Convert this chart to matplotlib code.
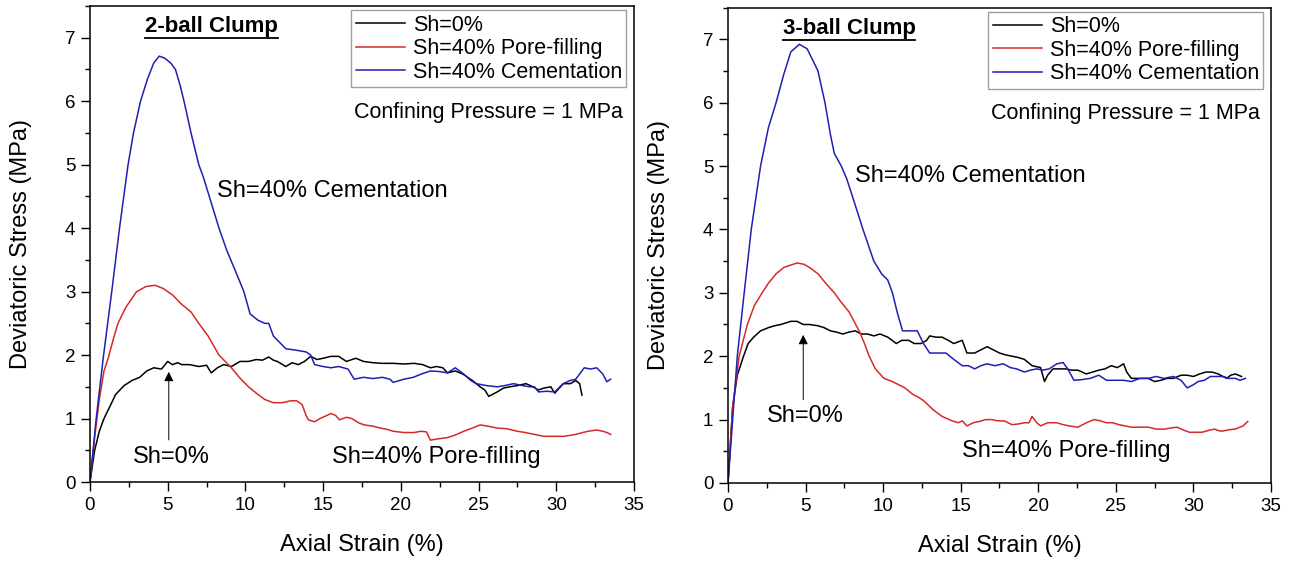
import matplotlib
matplotlib.use("Agg")
import matplotlib.pyplot as plt
from matplotlib.ticker import MultipleLocator
from matplotlib.lines import Line2D

plt.rcParams['font.family'] = ['Liberation Sans', 'DejaVu Sans']

# ---- data (axial strain %, deviatoric stress MPa) ----
# 2-ball clump
ball2_x_sh0 = [0, 0.3, 0.6, 0.9, 1.3, 1.65, 2.2, 2.7, 3.2, 3.65, 4.1, 4.6, 5.0, 5.3, 5.65, 5.9,
               6.4, 7.0, 7.5, 7.8, 8.2, 8.6, 9.1, 9.65, 10.2, 10.7, 11.1, 11.5, 11.8, 12.05,
               12.6, 13.0, 13.4, 13.8, 14.2, 14.6, 15.0, 15.5, 16.0, 16.5, 17.1, 17.6, 18.2,
               18.8, 19.5, 20.2, 20.85, 21.4, 21.9, 22.3, 22.7, 23.0, 23.5, 24.0, 24.6, 25.1,
               25.4, 25.65, 26.2, 26.6, 27.0, 27.5, 28.05, 28.5, 28.85, 29.2, 29.65, 29.9,
               30.45, 30.9, 31.25, 31.5, 31.65]
ball2_y_sh0 = [0, 0.5, 0.8, 1.0, 1.2, 1.38, 1.52, 1.6, 1.65, 1.75, 1.8, 1.78, 1.9, 1.85, 1.88, 1.85,
               1.85, 1.82, 1.84, 1.72, 1.8, 1.85, 1.82, 1.9, 1.9, 1.93, 1.92, 1.97, 1.92, 1.9,
               1.82, 1.88, 1.85, 1.9, 1.98, 1.93, 1.95, 1.98, 1.98, 1.9, 1.95, 1.9, 1.88,
               1.87, 1.87, 1.86, 1.87, 1.85, 1.8, 1.82, 1.8, 1.72, 1.75, 1.7, 1.6, 1.5,
               1.45, 1.35, 1.42, 1.48, 1.5, 1.52, 1.55, 1.5, 1.45, 1.48, 1.5, 1.4,
               1.55, 1.55, 1.6, 1.55, 1.37]
ball2_x_pore = [0, 0.3, 0.6, 0.9, 1.17, 1.5, 1.8, 2.3, 3.0, 3.6, 4.2, 4.7, 5.3, 5.9, 6.5, 7.0,
                7.6, 8.3, 8.7, 9.1, 9.6, 10.2, 10.7, 11.25, 11.8, 12.4, 12.9, 13.3, 13.65, 13.9,
                14.05, 14.45, 14.8, 15.25, 15.5, 15.8, 16.05, 16.5, 16.85, 17.3, 17.65, 18.2,
                18.7, 19.1, 19.5, 20.2, 20.85, 21.3, 21.65, 21.9, 22.4, 23.0, 23.5, 24.05, 24.6,
                25.1, 25.6, 26.2, 26.8, 27.5, 28.0, 28.6, 29.2, 29.9, 30.5, 31.25, 31.7, 32.05,
                32.6, 33.0, 33.25, 33.5]
ball2_y_pore = [0, 0.7, 1.3, 1.75, 1.95, 2.25, 2.5, 2.75, 3.0, 3.08, 3.1, 3.05, 2.95, 2.8, 2.68, 2.5,
                2.3, 2.0, 1.9, 1.8, 1.65, 1.5, 1.4, 1.3, 1.25, 1.25, 1.28, 1.28, 1.22, 1.05,
                0.98, 0.95, 1.0, 1.05, 1.08, 1.05, 0.98, 1.02, 1.0, 0.93, 0.9, 0.88,
                0.85, 0.83, 0.8, 0.78, 0.78, 0.8, 0.79, 0.66, 0.68, 0.7, 0.74, 0.8, 0.85,
                0.9, 0.88, 0.85, 0.84, 0.8, 0.78, 0.75, 0.72, 0.72, 0.72, 0.75, 0.78, 0.8,
                0.82, 0.8, 0.78, 0.75]
ball2_x_cem = [0, 0.4, 0.85, 1.4, 1.9, 2.45, 2.8, 3.25, 3.7, 4.1, 4.45, 4.8, 5.2, 5.5, 5.8, 6.05,
               6.5, 7.0, 7.3, 7.8, 8.3, 8.8, 9.4, 9.9, 10.3, 10.8, 11.25, 11.5, 11.8, 12.2, 12.6,
               13.2, 13.9, 14.2, 14.45, 15.0, 15.5, 16.0, 16.6, 17.0, 17.6, 18.2, 18.8, 19.3,
               19.5, 20.2, 20.8, 21.3, 21.9, 22.5, 23.0, 23.5, 24.05, 24.5, 24.85, 25.5, 26.2,
               26.7, 27.25, 27.8, 28.3, 28.6, 28.85, 29.4, 29.9, 30.45, 30.9, 31.25, 31.8,
               32.2, 32.6, 33.0, 33.25, 33.5]
ball2_y_cem = [0, 1.0, 1.95, 3.0, 4.0, 5.0, 5.5, 6.0, 6.35, 6.6, 6.71, 6.68, 6.6, 6.5, 6.25, 6.0,
               5.5, 5.0, 4.8, 4.4, 4.0, 3.65, 3.3, 3.0, 2.65, 2.55, 2.5, 2.5, 2.3, 2.2, 2.1,
               2.08, 2.05, 2.0, 1.85, 1.82, 1.8, 1.82, 1.78, 1.62, 1.65, 1.63, 1.65, 1.62,
               1.57, 1.62, 1.65, 1.7, 1.75, 1.74, 1.72, 1.8, 1.7, 1.6, 1.55, 1.52, 1.5,
               1.52, 1.55, 1.52, 1.5, 1.5, 1.42, 1.43, 1.42, 1.55, 1.6, 1.62, 1.8,
               1.78, 1.8, 1.7, 1.58, 1.62]

# 3-ball clump
ball3_x_sh0 = [0, 0.3, 0.6, 1.0, 1.3, 1.65, 2.1, 2.6, 3.0, 3.4, 4.05, 4.45, 4.85, 5.25, 5.8, 6.2,
               6.6, 7.0, 7.4, 7.8, 8.2, 8.6, 9.0, 9.4, 9.8, 10.3, 10.85, 11.2, 11.65, 12.0,
               12.45, 12.8, 13.0, 13.4, 13.8, 14.2, 14.55, 15.1, 15.4, 15.9, 16.3, 16.7, 17.1,
               17.5, 17.9, 18.3, 18.7, 19.1, 19.6, 20.15, 20.4, 20.6, 20.95, 21.35, 21.75,
               22.15, 22.55, 23.1, 23.5, 23.9, 24.3, 24.7, 25.1, 25.5, 25.7, 26.0, 26.5, 27.1,
               27.5, 27.9, 28.3, 28.7, 29.2, 29.6, 30.0, 30.4, 30.8, 31.2, 31.6, 31.9, 32.15,
               32.4, 32.7, 33.1]
ball3_y_sh0 = [0, 1.2, 1.7, 2.0, 2.2, 2.3, 2.4, 2.45, 2.48, 2.5, 2.55, 2.55, 2.5, 2.5, 2.48, 2.45,
               2.4, 2.38, 2.35, 2.38, 2.4, 2.35, 2.35, 2.32, 2.35, 2.3, 2.2, 2.25, 2.25, 2.2,
               2.2, 2.25, 2.32, 2.3, 2.3, 2.25, 2.2, 2.25, 2.05, 2.05, 2.1, 2.15, 2.1,
               2.05, 2.02, 2.0, 1.98, 1.95, 1.85, 1.82, 1.6, 1.7, 1.8, 1.8, 1.8,
               1.78, 1.78, 1.72, 1.75, 1.78, 1.8, 1.85, 1.82, 1.88, 1.75, 1.65, 1.65, 1.65,
               1.6, 1.62, 1.65, 1.65, 1.7, 1.7, 1.68, 1.72, 1.75, 1.75, 1.72, 1.68, 1.65,
               1.7, 1.72, 1.68]
ball3_x_pore = [0, 0.3, 0.72, 1.25, 1.7, 2.2, 2.6, 3.1, 3.6, 4.2, 4.45, 4.9, 5.25, 5.8, 6.3, 6.85,
                7.3, 7.8, 8.45, 8.8, 9.1, 9.5, 10.05, 10.6, 11.0, 11.4, 11.9, 12.3, 12.6, 13.25,
                13.8, 14.45, 14.85, 15.1, 15.4, 15.8, 16.2, 16.6, 17.0, 17.4, 17.8, 18.3, 18.7,
                19.1, 19.4, 19.6, 19.9, 20.15, 20.6, 21.2, 21.6, 22.0, 22.55, 23.1, 23.6, 24.0,
                24.4, 24.8, 25.2, 25.6, 26.0, 26.5, 27.1, 27.6, 28.15, 28.6, 28.95, 29.4, 29.75,
                30.2, 30.55, 31.0, 31.35, 31.7, 31.9, 32.3, 32.7, 33.0, 33.2, 33.5]
ball3_y_pore = [0, 1.2, 2.0, 2.5, 2.8, 3.0, 3.15, 3.3, 3.4, 3.45, 3.47, 3.45, 3.4, 3.3, 3.15, 3.0,
                2.85, 2.7, 2.4, 2.2, 2.0, 1.8, 1.65, 1.6, 1.55, 1.5, 1.4, 1.35, 1.3, 1.15,
                1.05, 0.98, 0.95, 0.98, 0.9, 0.95, 0.97, 1.0, 1.0, 0.98, 0.98, 0.92, 0.93,
                0.95, 0.95, 1.05, 0.95, 0.9, 0.95, 0.95, 0.92, 0.9, 0.88, 0.95, 1.0, 0.98,
                0.95, 0.95, 0.92, 0.9, 0.88, 0.88, 0.88, 0.85, 0.85, 0.87, 0.88, 0.83, 0.8,
                0.8, 0.8, 0.83, 0.85, 0.82, 0.82, 0.84, 0.85, 0.88, 0.9, 0.97]
ball3_x_cem = [0, 0.3, 0.6, 1.0, 1.5, 2.1, 2.6, 3.1, 3.6, 4.05, 4.6, 5.1, 5.5, 5.8, 6.25, 6.6,
               6.85, 7.3, 7.65, 8.05, 8.7, 9.4, 9.9, 10.3, 10.6, 10.9, 11.25, 11.7, 12.2, 12.6,
               13.0, 13.5, 14.05, 14.55, 15.1, 15.5, 15.9, 16.3, 16.7, 17.2, 17.75, 18.2, 18.6,
               19.1, 19.5, 19.9, 20.3, 20.7, 21.2, 21.6, 21.9, 22.3, 22.8, 23.35, 23.9, 24.4,
               25.0, 25.5, 26.0, 26.55, 27.1, 27.6, 28.1, 28.7, 29.2, 29.6, 30.0, 30.3, 30.7,
               31.1, 31.5, 31.9, 32.3, 32.7, 33.0, 33.35]
ball3_y_cem = [0, 1.0, 2.0, 2.9, 4.0, 5.0, 5.6, 6.0, 6.45, 6.8, 6.92, 6.85, 6.65, 6.5, 6.0, 5.5,
               5.2, 5.0, 4.8, 4.5, 4.0, 3.5, 3.3, 3.2, 3.0, 2.7, 2.4, 2.4, 2.4, 2.2,
               2.05, 2.05, 2.05, 1.95, 1.85, 1.85, 1.8, 1.85, 1.88, 1.85, 1.88, 1.82, 1.8,
               1.75, 1.78, 1.8, 1.78, 1.8, 1.88, 1.9, 1.8, 1.62, 1.63, 1.65, 1.7, 1.62,
               1.62, 1.62, 1.6, 1.65, 1.65, 1.68, 1.65, 1.68, 1.62, 1.5, 1.55, 1.6, 1.62,
               1.68, 1.68, 1.68, 1.65, 1.65, 1.62, 1.65]

series_labels = ['Sh=0%', 'Sh=40% Pore-filling', 'Sh=40% Cementation']
series_colors = ['black', '#d42a2a', '#1f1fb4']

FS = 17


def draw_panel(ax, curves, title, arrow_xy, arrow_tail, sh0_xy, pore_xy, cem_xy):
    for (xs, ys), lab, col in zip(curves, series_labels, series_colors):
        ax.plot(xs, ys, color=col, lw=1.1, label=lab)

    ax.set_xlim(0, 35)
    ax.set_ylim(0, 7.5)
    ax.xaxis.set_major_locator(MultipleLocator(5))
    ax.xaxis.set_minor_locator(MultipleLocator(2.5))
    ax.yaxis.set_major_locator(MultipleLocator(1))
    ax.yaxis.set_minor_locator(MultipleLocator(0.5))
    ax.tick_params(which='major', direction='out', length=6.5, width=1, labelsize=13.5, pad=4)
    ax.tick_params(which='minor', direction='out', length=3.3, width=1)
    for sp in ax.spines.values():
        sp.set_linewidth(1.1)

    ax.set_xlabel('Axial Strain (%)', fontsize=FS, labelpad=15)
    ax.set_ylabel('Deviatoric Stress (MPa)', fontsize=FS, labelpad=24)

    leg = ax.legend(loc='upper right', bbox_to_anchor=(0.986, 0.991), borderaxespad=0,
                    fancybox=False, edgecolor='#888888', fontsize=15.5, handlelength=2.3,
                    handletextpad=0.35, labelspacing=0.12, borderpad=0.2)
    leg.get_frame().set_linewidth(1.0)

    ax.text(34.3, 5.83, 'Confining Pressure = 1 MPa', fontsize=15.5, ha='right', va='center')
    ax.text(cem_xy[0], cem_xy[1], 'Sh=40% Cementation', fontsize=FS, ha='left', va='center')
    ax.text(pore_xy[0], pore_xy[1], 'Sh=40% Pore-filling', fontsize=FS, ha='center', va='center')
    ax.text(sh0_xy[0], sh0_xy[1], 'Sh=0%', fontsize=FS, ha='center', va='center')
    ax.annotate('', xy=arrow_xy, xytext=arrow_tail,
                arrowprops=dict(arrowstyle='-|>', color='black', lw=0.7, mutation_scale=14))

    t = ax.text(7.8, 7.17, title, fontsize=16, fontweight='bold', ha='center', va='center')
    return t


fig = plt.figure(figsize=(12.91, 5.62), dpi=100)
ax1 = fig.add_axes([0.0697, 0.1423, 0.4214, 0.847])
ax2 = fig.add_axes([0.5639, 0.1406, 0.4206, 0.846])

t1 = draw_panel(ax1,
                [(ball2_x_sh0, ball2_y_sh0), (ball2_x_pore, ball2_y_pore), (ball2_x_cem, ball2_y_cem)],
                '2-ball Clump', (5.07, 1.78), (5.07, 0.62), (5.25, 0.4), (22.3, 0.4), (8.2, 4.59))
t2 = draw_panel(ax2,
                [(ball3_x_sh0, ball3_y_sh0), (ball3_x_pore, ball3_y_pore), (ball3_x_cem, ball3_y_cem)],
                '3-ball Clump', (4.85, 2.38), (4.85, 1.27), (5.0, 1.05), (21.8, 0.5), (8.2, 4.85))

# underline the bold panel titles
fig.canvas.draw()
renderer = fig.canvas.get_renderer()
for ax, t in [(ax1, t1), (ax2, t2)]:
    bb = t.get_window_extent(renderer)
    inv = fig.transFigure.inverted()
    (x0, y0), (x1, _) = inv.transform([(bb.x0, bb.y0 - 1), (bb.x1, bb.y0 - 1)])
    fig.add_artist(Line2D([x0, x1], [y0, y0], color='black', lw=1.3, transform=fig.transFigure))

fig.savefig('out.png', dpi=100)
